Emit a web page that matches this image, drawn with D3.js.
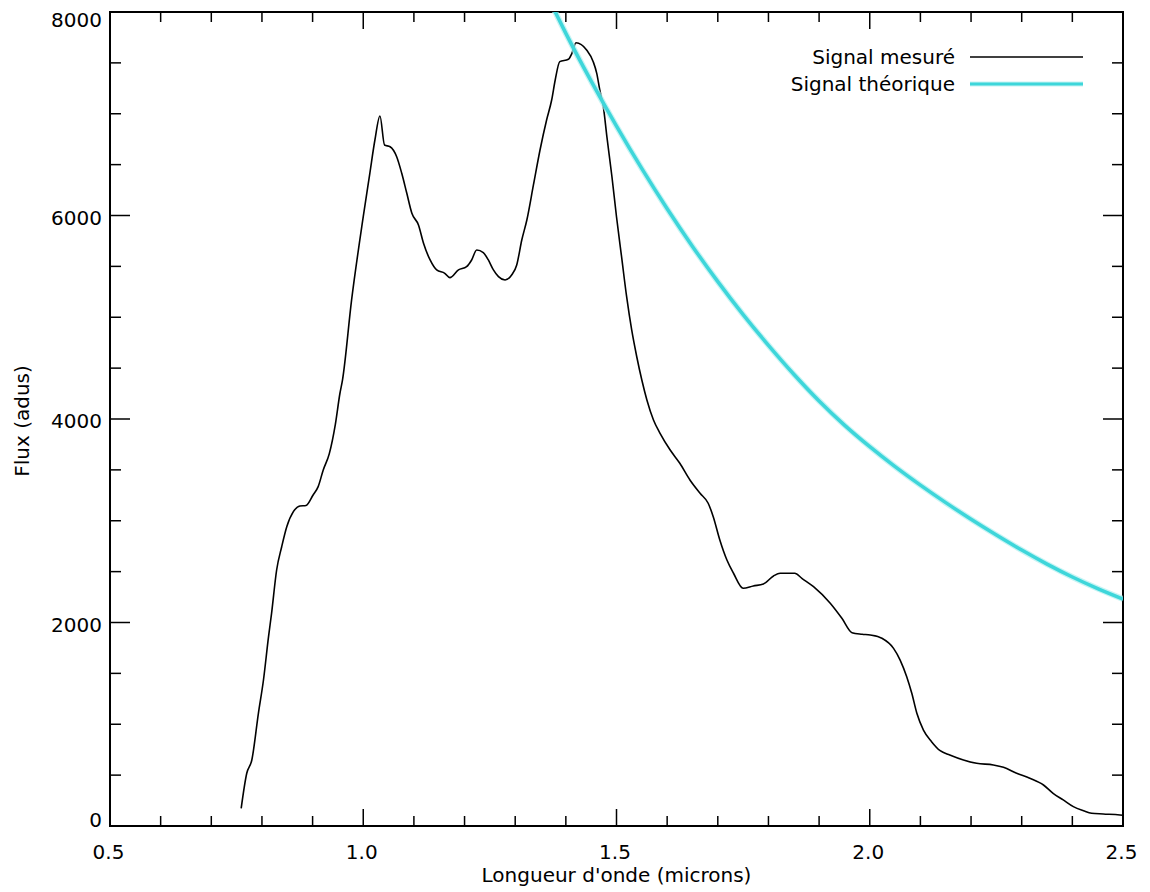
<!DOCTYPE html>
<html><head><meta charset="utf-8">
<script src="https://cdn.jsdelivr.net/npm/d3@7"></script>
<style>body{margin:0;background:#fff}svg{display:block}text{font-family:"DejaVu Sans",sans-serif;font-size:20px;fill:#000}</style>
</head><body><svg id="c" width="1150" height="892"></svg>
<script>
const measuredWl = [0.759,0.770,0.780,0.793,0.803,0.813,0.819,0.829,0.839,0.849,0.862,0.875,0.887,0.901,0.911,0.921,0.933,0.945,0.954,0.959,0.977,1.000,1.013,1.023,1.033,1.042,1.053,1.066,1.076,1.086,1.096,1.109,1.119,1.132,1.145,1.161,1.171,1.188,1.204,1.214,1.224,1.237,1.247,1.257,1.267,1.280,1.293,1.303,1.313,1.323,1.336,1.349,1.362,1.372,1.379,1.388,1.405,1.412,1.420,1.441,1.454,1.461,1.467,1.474,1.481,1.491,1.500,1.510,1.520,1.530,1.540,1.550,1.560,1.573,1.586,1.606,1.625,1.645,1.665,1.681,1.691,1.704,1.718,1.731,1.750,1.770,1.790,1.810,1.823,1.852,1.866,1.889,1.922,1.945,1.965,1.985,2.001,2.024,2.047,2.060,2.073,2.083,2.093,2.106,2.122,2.139,2.158,2.185,2.211,2.244,2.264,2.290,2.316,2.343,2.362,2.382,2.402,2.422,2.438,2.461,2.494,2.500];
const measuredFlux = [174,518,649,1108,1435,1861,2090,2516,2745,2941,3089,3145,3150,3253,3335,3499,3660,3950,4253,4383,5170,5988,6415,6742,6978,6693,6676,6578,6415,6218,6022,5907,5727,5563,5465,5432,5389,5465,5497,5563,5661,5635,5563,5465,5399,5366,5415,5514,5759,5956,6300,6644,6939,7135,7332,7512,7535,7594,7698,7627,7512,7397,7234,7069,6775,6381,5988,5595,5202,4875,4612,4383,4187,3990,3859,3695,3565,3401,3270,3172,3040,2811,2614,2484,2336,2359,2378,2457,2484,2484,2434,2352,2189,2041,1900,1885,1877,1845,1746,1631,1467,1304,1108,943,829,740,698,649,616,600,577,518,469,403,321,256,190,150,125,118,108,105];
const theoWl = [1.37,1.38,1.40,1.45,1.50,1.55,1.60,1.65,1.70,1.75,1.80,1.85,1.90,1.95,2.00,2.05,2.10,2.15,2.20,2.25,2.30,2.35,2.40,2.45,2.50];
const theoFlux = [8090,7990,7790,7320,6878,6460,6066,5696,5350,5026,4724,4440,4177,3940,3728,3532,3350,3178,3015,2860,2712,2574,2447,2333,2230];
const xMajorTicks = [0.5,1.0,1.5,2.0,2.5];
const xTickLabels = ["0.5","1.0","1.5","2.0","2.5"];
const yMajorTicks = [0,2000,4000,6000,8000];
const yTickLabels = ["0","2000","4000","6000","8000"];
const xTitle = "Longueur d'onde (microns)";
const yTitle = "Flux (adus)";
const seriesNames = ["Signal mesuré","Signal théorique"];

const svg = d3.select("#c");
const L=110,R=1123,T=12,B=826;
const x = d3.scaleLinear().domain([0.5,2.5]).range([L,R]);
const y = d3.scaleLinear().domain([0,8000]).range([B,T]);

svg.append("defs").append("clipPath").attr("id","clip").append("rect")
  .attr("x",L).attr("y",T).attr("width",R-L).attr("height",B-T);

const xMinor = d3.range(0.5,2.5001,0.1);
const yMinor = d3.range(0,8001,500);
const g = svg.append("g").attr("stroke","#000").attr("stroke-width",1.5);
xMinor.forEach(v=>{
  const major = xMajorTicks.some(m=>Math.abs(m-v)<1e-6);
  const len = major?17:10;
  g.append("line").attr("x1",x(v)).attr("x2",x(v)).attr("y1",B).attr("y2",B-len);
  g.append("line").attr("x1",x(v)).attr("x2",x(v)).attr("y1",T).attr("y2",T+len);
});
yMinor.forEach(v=>{
  const major = yMajorTicks.includes(v);
  const len = major?20:11;
  g.append("line").attr("y1",y(v)).attr("y2",y(v)).attr("x1",L).attr("x2",L+len);
  g.append("line").attr("y1",y(v)).attr("y2",y(v)).attr("x1",R).attr("x2",R-len);
});
svg.append("rect").attr("x",L).attr("y",T).attr("width",R-L).attr("height",B-T)
  .attr("fill","none").attr("stroke","#000").attr("stroke-width",2);

xMajorTicks.forEach((v,i)=>{
  svg.append("text").attr("x",x(v)-1.5).attr("y",859).attr("text-anchor","middle").text(xTickLabels[i]);
});
yMajorTicks.forEach((v,i)=>{
  const cy = Math.min(Math.max(y(v)+2,19.5),819.5);
  svg.append("text").attr("x",102).attr("y",cy+7.3).attr("text-anchor","end").text(yTickLabels[i]);
});
svg.append("text").attr("x",(L+R)/2).attr("y",882).attr("text-anchor","middle").text(xTitle);
svg.append("text").attr("transform","translate(29,421) rotate(-90)").attr("text-anchor","middle").text(yTitle);

const plot = svg.append("g").attr("clip-path","url(#clip)");
const theo = theoWl.map((w,i)=>[w,theoFlux[i]]);
const meas = measuredWl.map((w,i)=>[w,measuredFlux[i]]);
const lineT = d3.line().x(d=>x(d[0])).y(d=>y(d[1])).curve(d3.curveMonotoneX);
const lineM = d3.line().x(d=>x(d[0])).y(d=>y(d[1])).curve(d3.curveMonotoneX);
plot.append("path").attr("d",lineM(meas)).attr("fill","none").attr("stroke","#000").attr("stroke-width",1.6);
plot.append("path").attr("d",lineT(theo)).attr("fill","none").attr("stroke","#aef0f0").attr("stroke-width",6).attr("opacity",0.7);
plot.append("path").attr("d",lineT(theo)).attr("fill","none").attr("stroke","#3ed6da").attr("stroke-width",3.5);

const legY = [57,84];
svg.append("text").attr("x",955).attr("y",legY[0]+7).attr("text-anchor","end").text(seriesNames[0]);
svg.append("text").attr("x",955).attr("y",legY[1]+7).attr("text-anchor","end").text(seriesNames[1]);
svg.append("line").attr("x1",970).attr("x2",1083).attr("y1",legY[0]).attr("y2",legY[0]).attr("stroke","#000").attr("stroke-width",1.6);
svg.append("line").attr("x1",970).attr("x2",1083).attr("y1",legY[1]).attr("y2",legY[1]).attr("stroke","#aef0f0").attr("stroke-width",5).attr("opacity",0.7);
svg.append("line").attr("x1",970).attr("x2",1083).attr("y1",legY[1]).attr("y2",legY[1]).attr("stroke","#3ed6da").attr("stroke-width",3);
</script></body></html>
